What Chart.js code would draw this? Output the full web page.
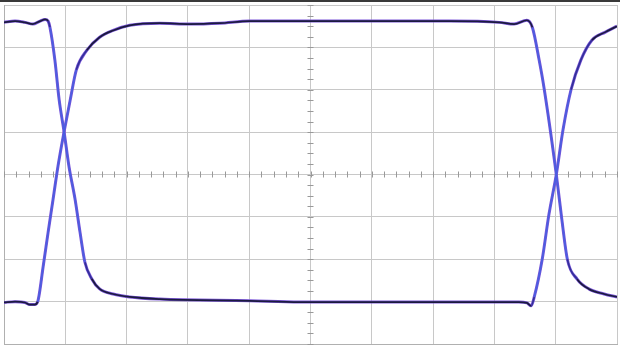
<!DOCTYPE html>
<html>
<head>
<meta charset="utf-8">
<script src="https://cdn.jsdelivr.net/npm/chart.js@4.4.0/dist/chart.umd.min.js"></script>
<style>
  body { margin: 0; background: #fff; }
  canvas { display: block; }
</style>
</head>
<body>
<canvas id="eye" width="620" height="347"></canvas>
<script>
// eye diagram, units are screen divisions (10 x 8)
const riseX = [0, 0.18, 0.34, 0.42, 0.50, 0.55, 0.64, 0.72, 0.80, 0.88, 0.98, 1.08, 1.18, 1.35, 1.56, 1.78, 2.05, 2.54, 3.03, 3.52, 4.01, 4.82, 5.64, 6.45, 7.26, 8.08, 8.32, 8.53, 8.62, 8.73, 8.81, 9.01, 9.10, 9.19, 9.35, 9.54, 9.79, 10.0];
const riseY = [-3.02, -3.00, -3.02, -3.07, -3.07, -3.00, -2.16, -1.36, -0.59, 0.19, 1.01, 1.76, 2.47, 2.93, 3.24, 3.40, 3.52, 3.57, 3.55, 3.57, 3.62, 3.62, 3.62, 3.62, 3.62, 3.59, 3.55, 3.64, 3.47, 2.70, 2.04, 0, -1.06, -2.00, -2.47, -2.70, -2.82, -2.89];

const fallX = [0, 0.18, 0.34, 0.47, 0.59, 0.67, 0.72, 0.75, 0.83, 0.90, 0.98, 1.06, 1.16, 1.24, 1.32, 1.43, 1.56, 1.78, 2.05, 2.54, 4.01, 4.82, 6.45, 8.08, 8.40, 8.53, 8.60, 8.65, 8.78, 8.89, 9.01, 9.12, 9.25, 9.41, 9.59, 9.81, 10.0];
const fallY = [3.59, 3.62, 3.59, 3.55, 3.62, 3.66, 3.62, 3.47, 2.70, 1.76, 1.01, 0.19, -0.59, -1.36, -2.07, -2.46, -2.70, -2.82, -2.89, -2.94, -2.98, -3.01, -3.01, -3.01, -3.01, -3.03, -3.10, -2.89, -2.00, -0.94, 0, 1.06, 2.00, 2.70, 3.17, 3.36, 3.50];

const xDivs = [0, 10];
const yDivs = [-4, 4];

function pts(xs, ys) {
  return xs.map((x, i) => ({ x: x, y: ys[i] }));
}

// steep parts of the edges look blue, the flat parts almost black
function edgeColor(ctx) {
  const a = ctx.p0.parsed, b = ctx.p1.parsed;
  const slope = Math.abs((b.y - a.y) / (b.x - a.x));
  if (slope > 6) return "#4a5ee0";
  if (slope > 2.5) return "#33309a";
  return "#1b1b3e";
}

function trace(xs, ys, under) {
  if (under) {
    return {
      data: pts(xs, ys),
      borderColor: "#7a55d8",
      borderWidth: 3,
      pointRadius: 0,
      cubicInterpolationMode: "monotone",
      order: 2,
    };
  }
  return {
    data: pts(xs, ys),
    borderColor: "#1b1b3e",
    borderWidth: 1.7,
    pointRadius: 0,
    cubicInterpolationMode: "monotone",
    segment: { borderColor: edgeColor },
    order: 1,
  };
}

// small tick marks along the centre axes, like a scope graticule
const graticule = {
  id: "graticule",
  beforeDatasetsDraw(chart) {
    const { ctx, scales: { x, y } } = chart;
    const cx = x.getPixelForValue(5);
    const cy = y.getPixelForValue(0);
    ctx.save();
    ctx.strokeStyle = "#999999";
    ctx.lineWidth = 1;
    ctx.beginPath();
    for (let v = 0; v <= 10.001; v += 0.2) {
      const px = Math.round(x.getPixelForValue(v)) + 0.5;
      ctx.moveTo(px, cy - 3);
      ctx.lineTo(px, cy + 3);
    }
    for (let v = -4; v <= 4.001; v += 0.25) {
      const py = Math.round(y.getPixelForValue(v)) + 0.5;
      ctx.moveTo(cx - 3, py);
      ctx.lineTo(cx + 3, py);
    }
    ctx.stroke();
    // dark strip at the very top of the screenshot
    ctx.fillStyle = "#3a3a3a";
    ctx.fillRect(0, 0, chart.width, 2);
    ctx.restore();
  },
};

new Chart(document.getElementById("eye"), {
  type: "line",
  data: {
    datasets: [
      trace(riseX, riseY, false),
      trace(fallX, fallY, false),
      trace(riseX, riseY, true),
      trace(fallX, fallY, true),
    ],
  },
  options: {
    responsive: false,
    animation: false,
    layout: { padding: { left: 4, right: 3, top: 5, bottom: 3 } },
    plugins: { legend: { display: false }, tooltip: { enabled: false } },
    scales: {
      x: {
        type: "linear",
        min: xDivs[0],
        max: xDivs[1],
        ticks: { display: false, stepSize: 1 },
        grid: { color: "#c8c8c8", drawTicks: false },
        border: { color: "#b0b0b0" },
      },
      y: {
        min: yDivs[0],
        max: yDivs[1],
        ticks: { display: false, stepSize: 1 },
        grid: { color: "#c8c8c8", drawTicks: false },
        border: { color: "#b0b0b0" },
      },
    },
  },
  plugins: [graticule],
});
</script>
</body>
</html>
